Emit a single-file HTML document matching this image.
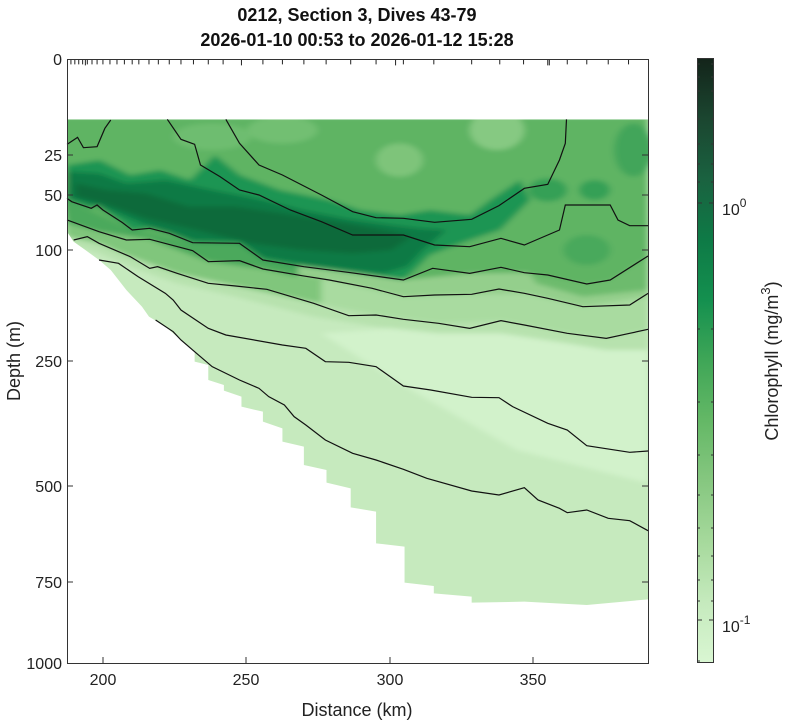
<!DOCTYPE html>
<html><head><meta charset="utf-8"><style>
html,body{margin:0;padding:0;background:#fff;}
svg{display:block;font-family:"Liberation Sans",Arial,sans-serif;}
</style></head><body>
<svg width="800" height="723" viewBox="0 0 800 723" xmlns="http://www.w3.org/2000/svg">
<defs>
<clipPath id="mk">
<polygon points="48,208 1537,208 1537,1648 1380,1665 1220,1655 1085,1658 1085,1640 988,1630 988,1608 913,1598 913,1490 840,1480 840,1385 775,1372 775,1315 713,1298 713,1260 655,1245 655,1190 600,1175 600,1135 550,1115 550,1085 495,1070 495,1040 450,1022 450,1005 410,990 410,945 375,935 375,905 340,870 300,830 258,800 240,770 200,720 160,660 130,630 95,600 65,575 48,545"/>
</clipPath>
<filter id="bl" x="-20%" y="-20%" width="140%" height="140%"><feGaussianBlur stdDeviation="9 7"/></filter>
<linearGradient id="cb" x1="0" y1="1" x2="0" y2="0">
<stop offset="0" stop-color="#d9f6d2"/>
<stop offset="0.1" stop-color="#c5eabd"/>
<stop offset="0.2" stop-color="#a6d99c"/>
<stop offset="0.3" stop-color="#86c780"/>
<stop offset="0.4" stop-color="#64b866"/>
<stop offset="0.5" stop-color="#3fa657"/>
<stop offset="0.6" stop-color="#14904f"/>
<stop offset="0.7" stop-color="#0e7a46"/>
<stop offset="0.8" stop-color="#1a6240"/>
<stop offset="0.9" stop-color="#1b4630"/>
<stop offset="1" stop-color="#13241a"/>
</linearGradient>
</defs>

<g transform="translate(48.3,50) scale(0.3902,0.33333)">
<g clip-path="url(#mk)">
<rect x="0" y="200" width="1600" height="1500" fill="#c6eabe"/>
<g filter="url(#bl)">
<polygon fill="#d2f2cb" points="700,850 1537,780 1537,1300 1200,1200 900,1000"/>
<polygon fill="#b7e2ae" points="0,200 1537,200 1537,900 1430,900 1330,880 1160,850 1000,850 840,830 680,800 480,740 330,700 210,650 130,610 48,580"/>
<polygon fill="#a9dba0" points="0,200 1537,200 1537,840 1430,865 1330,850 1160,812 1000,820 840,795 680,760 480,708 330,670 210,620 130,580 48,560"/>
<polygon fill="#80c67c" points="0,200 700,200 700,760 480,708 330,670 210,620 130,580 48,560"/>
<polygon fill="#94cf8c" points="0,200 1537,200 1537,740 1370,770 1220,730 1085,733 910,740 720,690 550,657 410,635 260,568 130,545 48,520"/>
<polygon fill="#4ca95c" points="0,200 640,200 640,680 550,657 410,635 260,568 130,545 48,520"/>
<polygon fill="#6dbb6d" points="1150,500 1537,500 1537,720 1370,740 1250,700"/>
<polygon fill="#5fb464" points="0,200 1537,200 1537,620 1440,690 1380,702 1220,668 1080,670 910,690 775,668 550,630 490,580 370,578 215,540 48,450"/>
<ellipse cx="900" cy="330" rx="60" ry="50" fill="#7ec47a"/>
<ellipse cx="1150" cy="240" rx="70" ry="60" fill="#86c982"/>
<ellipse cx="600" cy="240" rx="90" ry="40" fill="#72bf72"/>
<ellipse cx="420" cy="260" rx="100" ry="40" fill="#6ebd6f"/>
<ellipse cx="1500" cy="300" rx="50" ry="80" fill="#42a55a"/>
<ellipse cx="1280" cy="420" rx="50" ry="35" fill="#35a056"/>
<ellipse cx="1400" cy="420" rx="40" ry="30" fill="#35a056"/>
<ellipse cx="1380" cy="600" rx="60" ry="45" fill="#4aa95c"/>
<polygon fill="#1b9552" points="48,345 132,330 210,375 287,360 363,390 427,315 491,375 594,420 722,450 799,480 901,495 978,480 1081,495 1132,450 1209,390 1235,450 1158,540 1081,570 978,615 940,660 910,690 775,668 655,650 550,630 490,580 370,578 310,550 260,535 215,540 190,518 140,480 125,465 110,475 60,455 48,445"/>
<polygon fill="#0e7a45" points="48,365 130,370 200,400 300,390 420,420 550,450 650,480 760,505 880,525 950,535 1020,540 960,600 920,650 860,670 775,660 655,643 550,622 490,575 370,570 250,525 140,472 48,442"/>
<polygon fill="#0b6a3b" points="70,400 150,420 250,430 360,470 480,470 600,490 760,520 880,545 930,560 880,600 780,610 650,600 520,580 380,540 250,505 140,460 70,440"/>
</g>
</g>
<g fill="none" stroke="#111" stroke-width="1.2">
<polyline vector-effect="non-scaling-stroke" points="48,283 75,262 90,293 125,290 145,235 160,210"/>
<polyline vector-effect="non-scaling-stroke" points="305,208 340,268 375,283 390,345 440,380 490,420 540,435 620,480 700,515 780,555 910,555 990,585 1080,590 1160,565 1220,585 1250,570 1310,540 1325,465 1440,465 1460,510 1490,527 1537,527"/>
<polyline vector-effect="non-scaling-stroke" points="455,208 490,280 540,345 600,375 700,435 780,485 840,503 910,505 990,517 1085,508 1155,467 1220,415 1280,403 1310,330 1325,280 1328,208"/>
<polyline vector-effect="non-scaling-stroke" points="48,445 60,455 110,475 125,465 140,480 190,518 215,540 260,535 310,550 370,578 490,580 550,630 655,650 775,668 910,690 985,655 1080,670 1160,652 1220,668 1280,675 1380,702 1440,690 1537,618"/>
<polyline vector-effect="non-scaling-stroke" points="48,510 130,545 200,570 260,568 370,602 410,635 490,632 550,657 650,677 720,690 830,715 910,740 990,735 1085,733 1155,717 1220,730 1280,745 1370,770 1490,765 1537,730"/>
<polyline vector-effect="non-scaling-stroke" points="65,570 100,560 130,580 210,620 260,655 280,650 330,670 410,700 480,708 560,718 680,760 770,797 840,795 910,808 1000,820 1080,835 1160,812 1220,825 1330,850 1430,865 1490,850 1537,838"/>
<polyline vector-effect="non-scaling-stroke" points="130,630 180,640 230,680 300,730 320,750 340,780 410,835 455,855 600,885 660,895 710,935 770,937 840,950 910,1008 980,1020 1085,1042 1155,1043 1190,1070 1280,1120 1330,1140 1380,1187 1490,1207 1537,1203"/>
<polyline vector-effect="non-scaling-stroke" points="275,810 320,845 340,870 375,905 420,950 490,990 540,1015 565,1040 605,1065 630,1100 660,1125 710,1170 780,1210 840,1230 910,1258 970,1285 1085,1323 1155,1335 1220,1313 1255,1350 1310,1375 1330,1388 1380,1380 1435,1405 1490,1412 1537,1442"/>
</g>
<g stroke="#222" stroke-width="1">
<path vector-effect="non-scaling-stroke" d="M58,28V43M68,28V43M78,28V43M88,28V43M95,28V46M100,28V43M112,28V43M125,28V43M140,28V43M158,28V43M176,28V43M195,28V43M215,28V43M232,28V43M258,28V43M282,28V43M310,28V43M340,28V43M372,28V43M410,28V43M448,28V43M495,28V46M550,28V43M600,28V43M655,28V43M712,28V43M775,28V43M840,28V43M890,28V46M910,28V43M988,28V43M1085,28V43M1157,28V43M1218,28V43M1280,28V46M1284,28V46M1330,28V43M1380,28V43M1435,28V43M1487,28V43"/>
</g>
</g>

<g stroke="#333" stroke-width="1" fill="none">
<rect x="67.5" y="59.5" width="581" height="604"/>
<path d="M67,155h6M67,195h6M67,250h6M67,361h6M67,486h6M67,582h6M648,155h-6M648,195h-6M648,250h-6M648,361h-6M648,486h-6M648,582h-6M103,663v-6M246,663v-6M390,663v-6M533,663v-6"/>
</g>
<g font-size="16" fill="#222">
<g text-anchor="end">
<text x="62" y="65">0</text>
<text x="62" y="161">25</text>
<text x="62" y="201">50</text>
<text x="62" y="256">100</text>
<text x="62" y="367">250</text>
<text x="62" y="492">500</text>
<text x="62" y="588">750</text>
<text x="62" y="669">1000</text>
</g>
<g text-anchor="middle">
<text x="103" y="685">200</text>
<text x="246" y="685">250</text>
<text x="390" y="685">300</text>
<text x="533" y="685">350</text>
</g>
</g>
<text x="357" y="716" font-size="18" text-anchor="middle" fill="#222">Distance (km)</text>
<text transform="translate(20,361) rotate(-90)" font-size="18" text-anchor="middle" fill="#222">Depth (m)</text>
<text x="357" y="21" font-size="18" font-weight="bold" text-anchor="middle" fill="#111">0212, Section 3, Dives 43-79</text>
<text x="357" y="46" font-size="18" font-weight="bold" text-anchor="middle" fill="#111">2026-01-10 00:53 to 2026-01-12 15:28</text>

<rect x="697.5" y="58.5" width="16" height="604" fill="url(#cb)" stroke="#333" stroke-width="1"/>
<g stroke="#333" stroke-width="1">
<path d="M697,203h5M714,203h-5M697,620h5M714,620h-5M697,144h3M714,144h-3M697,91h3M714,91h-3M697,77h3M714,77h-3M697,64h3M714,64h-3M697,119h3M714,119h-3M697,164h3M714,164h-3M697,182h3M714,182h-3M697,329h3M714,329h-3M697,402h3M714,402h-3M697,455h3M714,455h-3M697,495h3M714,495h-3M697,528h3M714,528h-3M697,556h3M714,556h-3M697,580h3M714,580h-3M697,601h3M714,601h-3M697,661h3"/>
</g>
<text x="722" y="215" font-size="16" fill="#222">10<tspan font-size="12" dy="-8">0</tspan></text>
<text x="722" y="632" font-size="16" fill="#222">10<tspan font-size="12" dy="-8">-1</tspan></text>
<text transform="translate(778,361) rotate(-90)" font-size="18" text-anchor="middle" fill="#222">Chlorophyll (mg/m<tspan font-size="13" dy="-8">3</tspan><tspan dy="8">)</tspan></text>
</svg>
</body></html>
